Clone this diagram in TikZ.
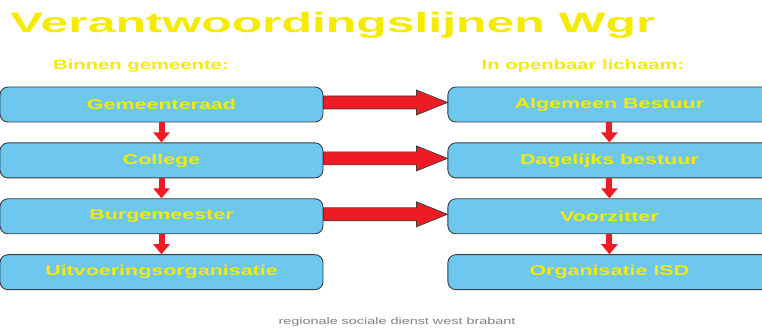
\documentclass[tikz,border=0pt]{standalone}
\usepackage{fontspec}
\setmainfont{Liberation Sans}
\newfontfamily\titlefont[FakeStretch=1.78]{Liberation Sans}
\newfontfamily\widefont[FakeStretch=1.5]{Liberation Sans}
\usepackage{xcolor}
\usepackage{tikz}
\usetikzlibrary{calc,arrows.meta,positioning}

\definecolor{boxblue}{RGB}{110,199,238}
\definecolor{txtyellow}{RGB}{245,235,0}
\definecolor{arrred}{RGB}{237,28,36}
\definecolor{edgegray}{RGB}{60,60,60}
\definecolor{footgray}{RGB}{128,128,128}

% big horizontal arrow from one box to the other
\newcommand{\bigarrow}[2]{%
\draw[bigarr] ($(#1.east)+(0,8.5)$) -- ($(#2.west)+(-31,8.5)$) -- ($(#2.west)+(-31,14.5)$)
  -- ($(#2.west)+(0,2)$) -- ($(#2.west)+(-31,-10.5)$) -- ($(#2.west)+(-31,-4.5)$)
  -- ($(#1.east)+(0,-4.5)$) -- cycle;}

\begin{document}
\begin{tikzpicture}[x=1pt,y=1pt,
  orgbox/.style={draw=edgegray, line width=0.9pt, fill=boxblue, rounded corners=8pt,
    minimum width=323pt, minimum height=35pt, inner sep=0pt,
    text=txtyellow, font=\widefont\bfseries\fontsize{14.3}{16}\selectfont},
  subhead/.style={text=txtyellow, inner sep=0pt, font=\widefont\bfseries\fontsize{13.5}{15}\selectfont},
  downarr/.style={draw=arrred, line width=6pt, -{Triangle[width=16pt,length=10pt]}},
  bigarr/.style={fill=arrred, draw=edgegray, line width=0.7pt, line join=miter},
  node distance=20pt]
\useasboundingbox (0,0) rectangle (762,329);
\clip (0,0) rectangle (762,329);

\node[anchor=base west, inner sep=0pt, text=txtyellow,
  font=\titlefont\bfseries\fontsize{28}{30}\selectfont] (title) at (10,296) {Verantwoordingslijnen Wgr};

\node[subhead] (binnen) at (141,263) {Binnen gemeente:};
\node[subhead] (lichaam) at (583,263) {In openbaar lichaam:};

% linker kolom
\node[orgbox] (gr) at (161.5,224.5) {Gemeenteraad};
\node[orgbox, below=of gr] (col) {College};
\node[orgbox, below=of col] (bgm) {Burgemeester};
\node[orgbox, below=of bgm] (uvo) {Uitvoeringsorganisatie};

% rechter kolom
\node[orgbox, right=124pt of gr] (ab) {Algemeen Bestuur};
\node[orgbox, below=of ab] (db) {Dagelijks bestuur};
\node[orgbox, below=of db] (vz) {Voorzitter};
\node[orgbox, below=of vz] (isd) {Organisatie ISD};

\draw[downarr] (gr) -- (col);
\draw[downarr] (col) -- (bgm);
\draw[downarr] (bgm) -- (uvo);
\draw[downarr] (ab) -- (db);
\draw[downarr] (db) -- (vz);
\draw[downarr] (vz) -- (isd);

\bigarrow{gr}{ab}
\bigarrow{col}{db}
\bigarrow{bgm}{vz}

\node[text=footgray, inner sep=0pt, font=\widefont\fontsize{9.6}{11}\selectfont] (foot) at (397,7) {regionale sociale dienst west brabant};
\end{tikzpicture}
\end{document}
